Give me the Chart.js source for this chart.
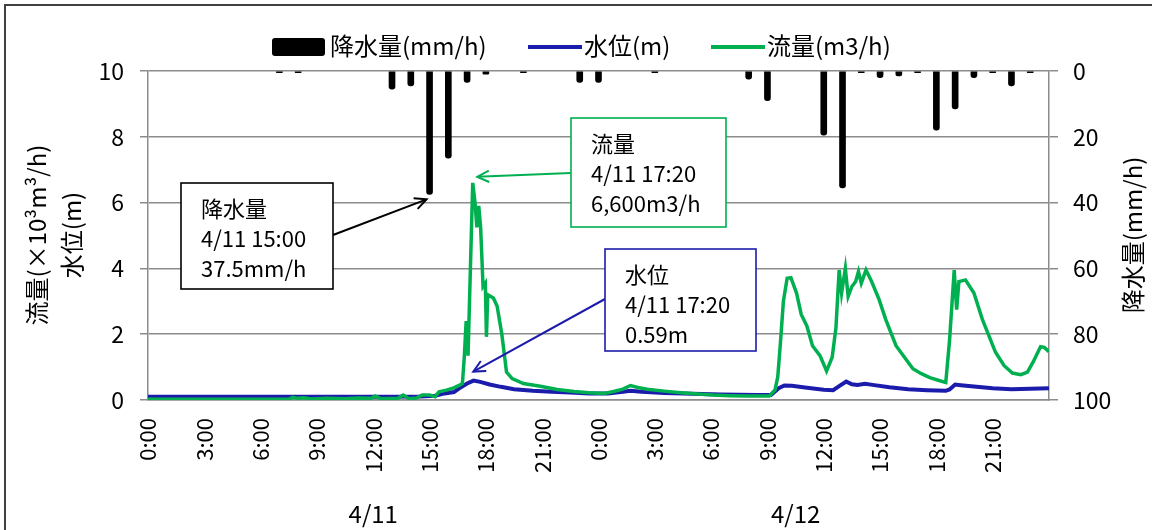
<!DOCTYPE html>
<html>
<head>
<meta charset="utf-8">
<script src="https://cdn.jsdelivr.net/npm/chart.js@4.4.1/dist/chart.umd.min.js"></script>
<style>
  html, body { margin: 0; padding: 0; background: #fff; }
  #wrap { width: 1152px; height: 530px; }
</style>
</head>
<body>
<div id="wrap"><canvas id="chart" width="1152" height="530"></canvas></div>
<script>
const FONT = '"Noto Sans CJK JP", "Open Sans", sans-serif';
const GRID = '#8c8c8c';
const BLUE = '#1c1cac';
const GREEN = '#00b050';

// x axis: hours since 4/11 0:00
const TICK_HOURS = [0, 3, 6, 9, 12, 15, 18, 21, 24, 27, 30, 33, 36, 39, 42, 45];
const TICK_LABELS = ['0:00', '3:00', '6:00', '9:00', '12:00', '15:00', '18:00', '21:00',
  '0:00', '3:00', '6:00', '9:00', '12:00', '15:00', '18:00', '21:00'];
const DAY_LABELS = ['4/11', '4/12'];
const DAY_HOURS = [12, 34.5];

// 降水量 (mm/h)
const RAIN_HOURS = [7, 8, 13, 14, 15, 16, 17, 18, 20, 23, 24, 27, 32, 33, 36, 37, 38, 39, 40, 41, 42, 43, 44, 45, 46, 47];
const RAIN_MM = [0.5, 0.5, 5.5, 4.5, 37.5, 26.5, 3.5, 1, 0.5, 3.5, 3.5, 0.5, 2.5, 9, 19.5, 35.5, 0.5, 2, 1.5, 0.5, 18, 11.5, 2, 0.5, 4.5, 0.5];

// 水位 (m)
const LEVEL_T = [0, 6, 12, 14.5, 15.3, 15.8, 16.3, 16.6, 17.0, 17.34, 17.7, 18.2, 18.8, 19.5, 20.5, 21.5, 22.5, 23.5,
  24.5, 25.3, 25.7, 26.3, 27.5, 28.5, 29.5, 30.5, 31.5, 32.5, 33.2, 33.6, 33.9, 34.3, 35.0, 36.0, 36.5, 36.9,
  37.2, 37.5, 37.8, 38.2, 38.6, 39.5, 40.5, 41.5, 42.5, 42.7, 43.0, 43.3, 44.0, 45.0, 46.0, 47.0, 48.0];
const LEVEL_M = [0.1, 0.1, 0.1, 0.11, 0.13, 0.2, 0.24, 0.36, 0.5, 0.59, 0.55, 0.47, 0.4, 0.33, 0.28, 0.25, 0.23, 0.2,
  0.2, 0.25, 0.28, 0.25, 0.21, 0.2, 0.18, 0.17, 0.16, 0.15, 0.16, 0.36, 0.44, 0.43, 0.38, 0.31, 0.3, 0.45,
  0.56, 0.48, 0.46, 0.49, 0.46, 0.39, 0.33, 0.3, 0.28, 0.32, 0.47, 0.45, 0.41, 0.36, 0.33, 0.34, 0.36];

// 流量 (×10³ m³/h)
const FLOW_T = [0, 7.5, 7.7, 8.0, 8.3, 8.7, 9.5, 10.5, 11.2, 11.9, 12.1, 12.4, 13.3, 13.6, 13.9, 14.3, 14.6, 15.0,
  15.3, 15.5, 15.9, 16.2, 16.4, 16.6, 16.75, 16.85, 16.95, 17.05, 17.3, 17.43, 17.52, 17.62, 17.72, 17.85, 17.97,
  18.03, 18.1, 18.4, 18.6, 18.85, 19.1, 19.4, 20.0, 20.9, 21.8, 22.7, 23.5, 24.3, 24.8, 25.3, 25.7, 26.1, 26.6,
  27.5, 28.4, 29.3, 30.1, 31.0, 31.9, 33.1, 33.4, 33.55, 33.7, 33.85, 34.05, 34.25, 34.55, 34.8, 35.1, 35.4, 35.8,
  36.15, 36.45, 36.65, 36.82, 36.95, 37.15, 37.3, 37.5, 37.7, 37.85, 38.0, 38.25, 38.55, 38.95, 39.3, 39.85, 40.3,
  40.75, 41.2, 41.65, 42.1, 42.5, 42.7, 42.95, 43.08, 43.2, 43.55, 44.0, 44.45, 45.15, 45.6, 46.05, 46.5, 46.85,
  47.15, 47.55, 47.75, 48.0];
const FLOW_K = [0.02, 0.02, 0.08, 0.05, 0.07, 0.03, 0.05, 0.04, 0.06, 0.05, 0.12, 0.04, 0.05, 0.15, 0.04, 0.06, 0.15, 0.15,
  0.1, 0.25, 0.3, 0.35, 0.4, 0.45, 0.5, 1.3, 2.4, 1.35, 6.6, 5.95, 5.25, 5.9, 5.25, 3.45, 3.55,
  1.92, 3.2, 3.1, 2.85, 2.0, 0.85, 0.65, 0.5, 0.42, 0.32, 0.26, 0.22, 0.2, 0.26, 0.33, 0.44, 0.38, 0.33,
  0.27, 0.22, 0.18, 0.15, 0.13, 0.12, 0.12, 0.3, 0.7, 1.8, 3.0, 3.7, 3.72, 3.25, 2.6, 2.25, 1.65, 1.35,
  0.88, 1.3, 2.2, 3.95, 3.25, 4.0, 3.15, 3.45, 3.6, 3.9, 3.55, 3.95, 3.6, 3.05, 2.45, 1.65, 1.3,
  0.95, 0.8, 0.68, 0.6, 0.53, 1.8, 3.95, 2.75, 3.6, 3.65, 3.25, 2.45, 1.45, 1.05, 0.82, 0.77, 0.85,
  1.15, 1.62, 1.6, 1.47];

const pts = (xs, ys) => xs.map((x, i) => ({ x: x, y: ys[i] }));

function arrow(ctx, x1, y1, x2, y2, color) {
  ctx.strokeStyle = color;
  ctx.lineWidth = 2;
  ctx.beginPath();
  ctx.moveTo(x1, y1);
  ctx.lineTo(x2, y2);
  ctx.stroke();
  const a = Math.atan2(y2 - y1, x2 - x1), L = 13, w = 0.45;
  ctx.beginPath();
  ctx.moveTo(x2 - L * Math.cos(a - w), y2 - L * Math.sin(a - w));
  ctx.lineTo(x2, y2);
  ctx.lineTo(x2 - L * Math.cos(a + w), y2 - L * Math.sin(a + w));
  ctx.stroke();
}

function note(ctx, x, y, w, h, color, lines) {
  ctx.fillStyle = '#fff';
  ctx.fillRect(x, y, w, h);
  ctx.strokeStyle = color;
  ctx.lineWidth = 1.6;
  ctx.strokeRect(x, y, w, h);
  ctx.fillStyle = '#000';
  ctx.textAlign = 'left';
  ctx.textBaseline = 'middle';
  lines.forEach((t, i) => ctx.fillText(t, x + 20, y + 26 + i * 30));
}

const decor = {
  id: 'decor',
  afterDraw(chart) {
    const ctx = chart.ctx;
    const xs = chart.scales.x, ys = chart.scales.y, rs = chart.scales.y2;
    ctx.save();
    ctx.font = '24px ' + FONT;

    // outer frame
    ctx.strokeStyle = '#404040';
    ctx.lineWidth = 2;
    ctx.strokeRect(5, 5, 1400, 700);

    // legend
    ctx.fillStyle = '#000';
    ctx.beginPath();
    ctx.roundRect(272, 38, 53, 18, 3);
    ctx.fill();
    ctx.textAlign = 'left';
    ctx.textBaseline = 'middle';
    ctx.fillText('降水量(mm/h)', 330, 46);
    ctx.lineWidth = 4;
    ctx.strokeStyle = BLUE;
    ctx.beginPath(); ctx.moveTo(528, 47); ctx.lineTo(582, 47); ctx.stroke();
    ctx.fillText('水位(m)', 584, 46);
    ctx.strokeStyle = GREEN;
    ctx.beginPath(); ctx.moveTo(711, 47); ctx.lineTo(765, 47); ctx.stroke();
    ctx.fillText('流量(m3/h)', 767, 46);

    // axis titles
    ctx.textAlign = 'center';
    ctx.save();
    ctx.translate(37, 235); ctx.rotate(-Math.PI / 2);
    ctx.fillText('流量(×10³m³/h)', 0, 0);
    ctx.restore();
    ctx.save();
    ctx.translate(72, 235); ctx.rotate(-Math.PI / 2);
    ctx.fillText('水位(m)', 0, 0);
    ctx.restore();
    ctx.save();
    ctx.translate(1133, 235); ctx.rotate(-Math.PI / 2);
    ctx.fillText('降水量(mm/h)', 0, 0);
    ctx.restore();

    // day labels
    DAY_LABELS.forEach((t, i) => ctx.fillText(t, xs.getPixelForValue(DAY_HOURS[i]), 514));

    // annotations
    ctx.font = '22px ' + FONT;
    const rx = xs.getPixelForValue(15), ry = rs.getPixelForValue(37.5);
    arrow(ctx, 333, 235, rx - 3, ry + 5, '#000');
    note(ctx, 181, 183, 152, 106, '#000', ['降水量', '4/11 15:00', '37.5mm/h']);

    const fx = xs.getPixelForValue(17.33), fy = ys.getPixelForValue(6.6);
    arrow(ctx, 571, 173, fx + 4, fy - 6, GREEN);
    note(ctx, 571, 118, 155, 109, GREEN, ['流量', '4/11 17:20', '6,600m3/h']);

    const lx = xs.getPixelForValue(17.33), ly = ys.getPixelForValue(0.59);
    arrow(ctx, 605, 299, lx, ly - 9, BLUE);
    note(ctx, 605, 249, 151, 102, BLUE, ['水位', '4/11 17:20', '0.59m']);

    ctx.restore();
  }
};

new Chart(document.getElementById('chart'), {
  data: {
    datasets: [
      { type: 'line', label: '流量(m3/h)', data: pts(FLOW_T, FLOW_K), borderColor: GREEN, borderWidth: 3.5,
        pointRadius: 0, yAxisID: 'y' },
      { type: 'line', label: '水位(m)', data: pts(LEVEL_T, LEVEL_M), borderColor: BLUE, borderWidth: 4,
        pointRadius: 0, yAxisID: 'y' },
      { type: 'bar', label: '降水量(mm/h)', data: pts(RAIN_HOURS, RAIN_MM), backgroundColor: '#000',
        barThickness: 6, borderRadius: 3, yAxisID: 'y2' }
    ]
  },
  options: {
    responsive: false,
    animation: false,
    devicePixelRatio: 1,
    layout: { padding: { top: 71, left: 0, right: 0, bottom: 0 } },
    plugins: { legend: { display: false }, tooltip: { enabled: false } },
    scales: {
      x: {
        type: 'linear', min: 0, max: 48, offset: false,
        afterBuildTicks: (a) => { a.ticks = TICK_HOURS.map((v) => ({ value: v })); },
        afterFit: (s) => { s.height = 130; },
        ticks: { autoSkip: false, minRotation: 90, maxRotation: 90, padding: 18, color: '#000',
          font: { family: FONT, size: 22 }, callback: (v, i) => TICK_LABELS[i] },
        grid: { display: false, drawTicks: false, offset: false },
        border: { display: true, color: GRID, width: 1.5 }
      },
      y: {
        position: 'left', min: 0, max: 10,
        afterFit: (s) => { s.width = 148; },
        ticks: { stepSize: 2, padding: 16, color: '#000', font: { family: FONT, size: 23 } },
        grid: { color: GRID, lineWidth: 1.5, tickLength: 8 },
        border: { display: true, color: GRID, width: 1.5 }
      },
      y2: {
        position: 'right', min: 0, max: 100, reverse: true,
        afterFit: (s) => { s.width = 103; },
        ticks: { stepSize: 20, padding: 15, color: '#000', font: { family: FONT, size: 23 } },
        grid: { drawOnChartArea: false, color: GRID, lineWidth: 1.5, tickLength: 9 },
        border: { display: true, color: GRID, width: 1.5 }
      }
    }
  },
  plugins: [decor]
});
</script>
</body>
</html>
